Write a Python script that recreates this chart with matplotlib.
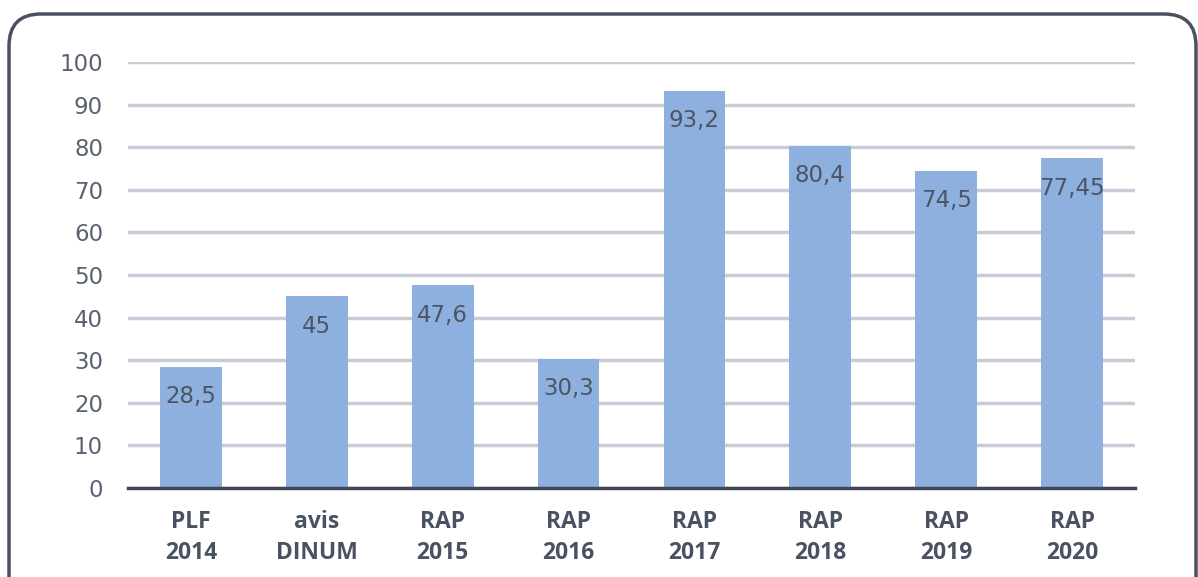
import matplotlib
matplotlib.use("Agg")
import matplotlib.pyplot as plt
from matplotlib.patches import FancyBboxPatch
from matplotlib.transforms import IdentityTransform

categories = ["PLF\n2014", "avis\nDINUM", "RAP\n2015", "RAP\n2016", "RAP\n2017", "RAP\n2018", "RAP\n2019", "RAP\n2020"]
values = [28.5, 45, 47.6, 30.3, 93.2, 80.4, 74.5, 77.45]
value_labels = ["28,5", "45", "47,6", "30,3", "93,2", "80,4", "74,5", "77,45"]
yticks = [0, 10, 20, 30, 40, 50, 60, 70, 80, 90, 100]

plt.rcParams['font.family'] = ['DejaVu Sans']

fig = plt.figure(figsize=(11.98, 5.77), dpi=100)
ax = fig.add_axes([128/1198, 0.1542, (1135-128)/1198, 0.7383])

# rounded frame (pixel coordinates)
box = FancyBboxPatch((9, -60), 1196 - 9, 563 + 60,
                     boxstyle="round,pad=0,rounding_size=32",
                     transform=IdentityTransform(), fill=False, edgecolor="#4a5262",
                     linewidth=2.5, zorder=0)
fig.patches.append(box)

x = list(range(len(categories)))
bars = ax.bar(x, values, width=0.49, color="#8eb0de", zorder=3)
for xi, v, lab in zip(x, values, value_labels):
    ax.annotate(lab, (xi, v), xytext=(0, -30), textcoords="offset pixels",
                ha="center", va="center", fontsize=16.5, color="#4d5564", zorder=4)

ax.set_xlim(-0.5, 7.5)
ax.set_ylim(0, 100)
ax.set_yticks(yticks)
ax.set_yticklabels([str(t) for t in yticks], fontsize=16.5, color="#5a6270")
ax.set_xticks(x)
ax.set_xticklabels(categories, fontsize=16.5, fontweight="bold", color="#4a5262",
                   linespacing=1.4, family=['Open Sans', 'DejaVu Sans'])
ax.tick_params(axis="y", length=0, pad=18)
ax.tick_params(axis="x", length=0, pad=16)
ax.grid(axis="y", color="#c9ccd6", linewidth=2.5, zorder=1)
ax.set_axisbelow(True)
for s in ["top", "right", "left"]:
    ax.spines[s].set_visible(False)
ax.spines["bottom"].set_color("#3f4656")
ax.spines["bottom"].set_linewidth(2.5)
ax.spines["bottom"].set_zorder(5)

fig.savefig("out.png", dpi=100)
